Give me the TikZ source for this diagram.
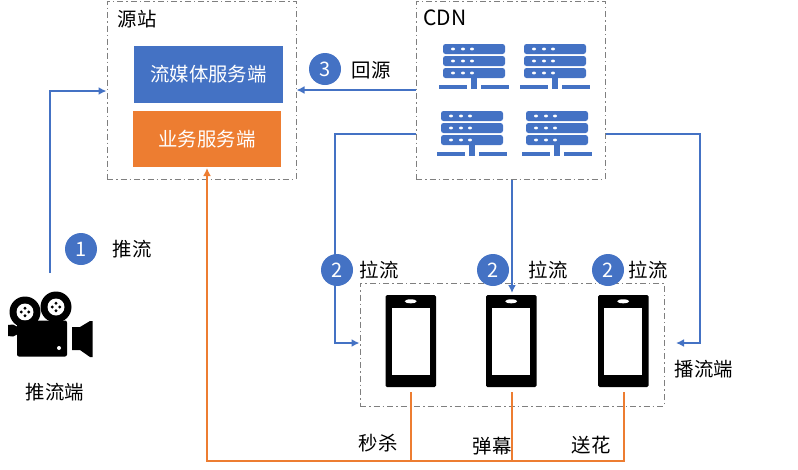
\documentclass[tikz,border=0pt]{standalone}
\usepackage{fontspec}
\setmainfont{Noto Sans CJK SC}
\usetikzlibrary{arrows.meta}
\definecolor{cblue}{HTML}{4472C4}
\definecolor{corange}{HTML}{ED7D31}
\definecolor{cgray}{HTML}{7F7F7F}
\tikzset{
  x=1pt,y=-1pt,
  txt/.style={font=\fontsize{19.4}{22}\selectfont,text=black,inner sep=0pt},
  dbox/.style={draw=cgray,line width=1pt,dash pattern=on 6pt off 3pt on 1.5pt off 3pt,inner sep=0pt},
  fillbox/.style={inner sep=0pt,text=white,font=\fontsize{19.4}{22}\selectfont},
  num/.style={circle,fill=cblue,minimum size=32pt,inner sep=0pt,text=white,font=\fontsize{20}{22}\selectfont},
  bluearrow/.style={draw=cblue,line width=1.6pt,-{Latex[length=8pt,width=8pt]}},
  orangeline/.style={draw=corange,line width=1.6pt},
  pics/server/.style={code={
    \foreach \yy in {0,12,24}{
      \fill[cblue,rounded corners=2.5pt] (0,\yy) rectangle (62,\yy+10);
      \foreach \xx in {10,20,29}{\fill[white] (\xx,\yy+5) ellipse (2pt and 1.4pt);}
    }
    \fill[cblue] (28,34) rectangle (34,41);
    \fill[cblue] (-4,41) rectangle (24,45);
    \fill[cblue] (28,41) rectangle (34,45);
    \fill[cblue] (38,41) rectangle (66,45);
  }},
  pics/phone/.style={code={
    \fill[black,rounded corners=1.5pt] (0,0) rectangle (50.5,92);
    \fill[white] (6,13) rectangle (44,80);
    \fill[white] (25.2,6.3) ellipse (6pt and 2pt);
  }},
  pics/reel/.style={code={
    \fill[black] (0,0) circle (15.5pt);
    \fill[white] (0,0) circle (8.5pt);
    \foreach \a in {0,90,180,270}{\fill[black] (\a:3.8pt) circle (1.6pt);}
  }}
}
\begin{document}
\begin{tikzpicture}
\useasboundingbox (0,0) rectangle (798,469);
% containers
\node[dbox,minimum width=189pt,minimum height=178pt] (origin) at (201.5,90) {};
\node[dbox,minimum width=189pt,minimum height=178pt] (cdn) at (510.5,90) {};
\node[dbox,minimum width=304pt,minimum height=123pt] (players) at (512,344.5) {};
% origin contents
\node[fillbox,fill=cblue,minimum width=149pt,minimum height=57pt] (media) at (208.5,74.5) {流媒体服务端};
\node[fillbox,fill=corange,minimum width=148pt,minimum height=56pt] (biz) at (207,139) {业务服务端};
\node[txt] (originlabel) at (137,19) {源站};
\node[txt,font=\fontsize{21}{24}\selectfont] (cdnlabel) at (445,18) {CDN};
% servers
\pic at (443,44) {server};
\pic at (524,44) {server};
\pic at (441,111) {server};
\pic at (526,111) {server};
% phones
\pic at (385.5,295) {phone};
\pic at (486,295) {phone};
\pic at (598,295) {phone};
\coordinate (ph1) at (411,392);
\coordinate (ph2) at (512,392);
\coordinate (ph3) at (624,392);
% camera
\pic at (25,312) {reel};
\pic at (56,307) {reel};
\fill[black,rounded corners=2pt] (17,320.5) rectangle (67,356.5);
\fill[black] (8,325) -- (13,324.5) -- (18,327) -- (18,334) -- (13,336.5) -- (8,336) -- cycle;
\fill[black] (72,327) -- (80,327) -- (90,321) -- (92.5,321) -- (92.5,357) -- (90,357) -- (80,350) -- (72,350) -- cycle;
\fill[white] (59,348) circle (2pt);
\coordinate (cam) at (50,273);
% blue connectors
\coordinate (py) at (0,343);
\coordinate (tp) at (512,293);
\draw[bluearrow] (cam) -- (50,91) -- (origin.west |- 0,91);
\draw[bluearrow] (cdn.west |- 0,90) -- (origin.east |- 0,90);
\draw[bluearrow] (cdn.west |- 0,134) -- (335,134) -- (335,343) -- (players.west |- py);
\draw[bluearrow] (cdn.east |- 0,134) -- (700,134) -- (700,343) -- (676,343);
% number badges and labels
\node[num] (n1) at (81,249) {1};
\node[num] (n3) at (325,69) {3};
\node[num] (n2a) at (337,270) {2};
\node[num] (n2b) at (493,270) {2};
\node[num] (n2c) at (608,270) {2};
\draw[bluearrow] (cdn.south -| tp) -- (tp);
\node[txt] (l1) at (132,249) {推流};
\node[txt] (l3) at (371,70) {回源};
\node[txt] (l2a) at (379,270) {拉流};
\node[txt] (l2b) at (548,270) {拉流};
\node[txt] (l2c) at (648,270) {拉流};
\node[txt] (lp) at (704,369) {播流端};
\node[txt] (lc) at (55,392) {推流端};
\node[txt] (m1) at (378,443) {秒杀};
\node[txt] (m2) at (492,446) {弹幕};
\node[txt] (m3) at (591,445) {送花};
% orange connectors
\draw[orangeline] (ph1) -- (411,461);
\draw[orangeline] (ph2) -- (512,461);
\draw[orangeline,-{Latex[length=8pt,width=8pt]}] (ph3) -- (624,461) -- (207,461) -- (207,168);
\end{tikzpicture}
\end{document}
